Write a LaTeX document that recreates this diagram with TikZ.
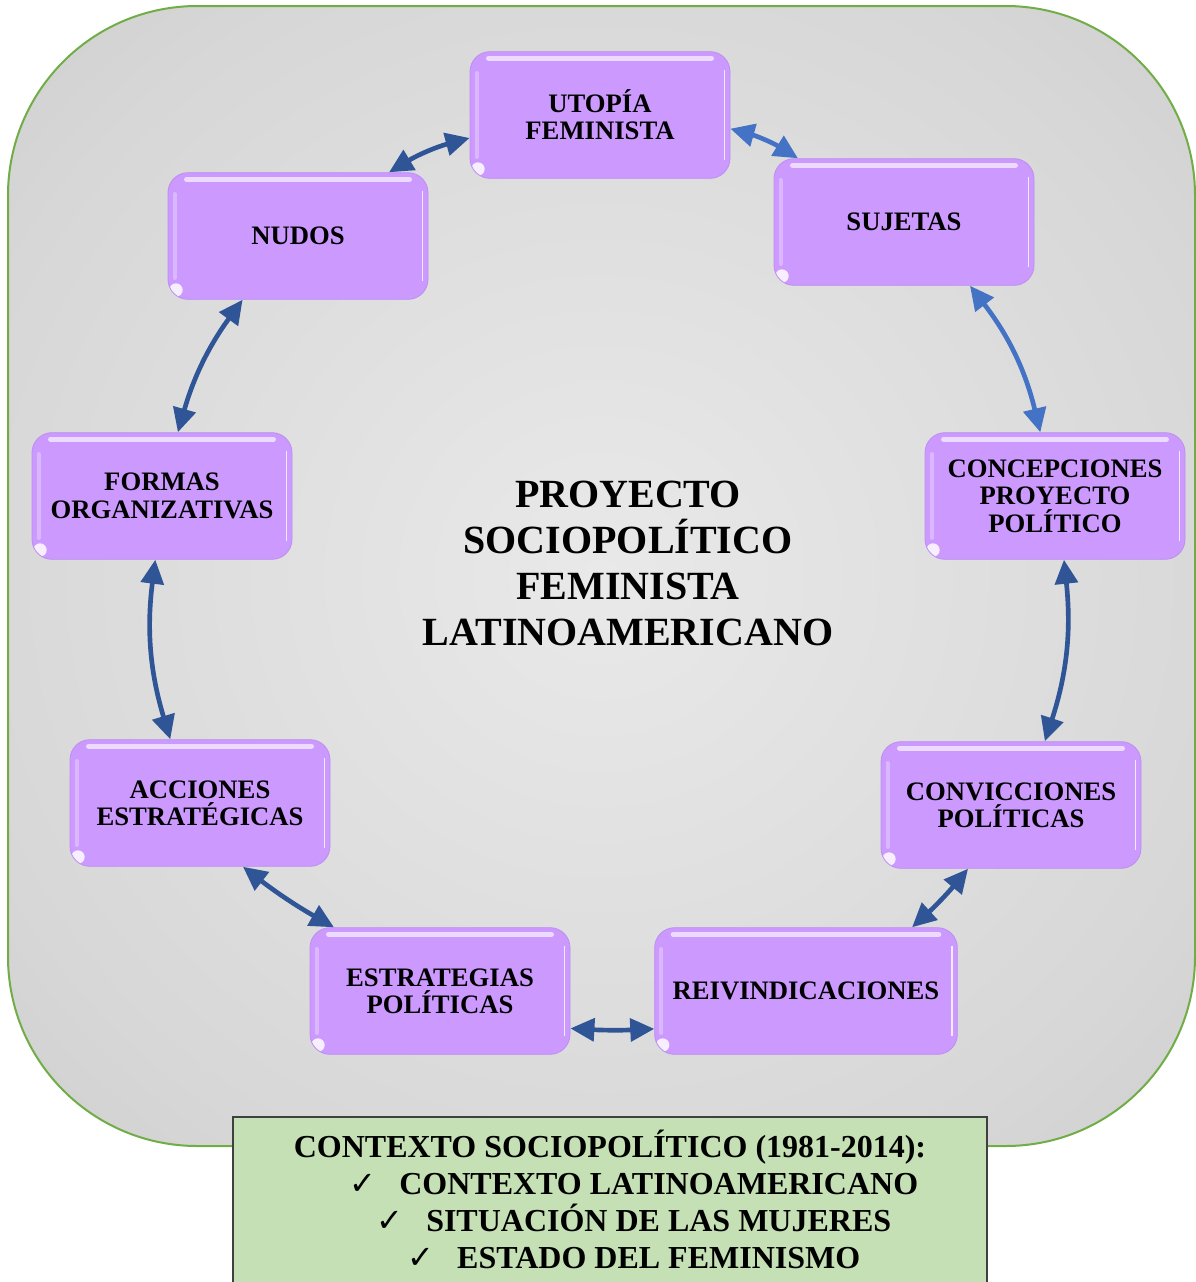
\documentclass[tikz,border=0pt]{standalone}
\usepackage{fontspec}
\setmainfont{Liberation Serif}
\newfontfamily\symfont{DejaVu Sans}
\usetikzlibrary{arrows.meta,calc}
\definecolor{ink}{RGB}{0,0,0}
\definecolor{lila}{RGB}{204,153,255}
\definecolor{lilaedge}{RGB}{188,142,240}
\definecolor{navy}{RGB}{47,85,151}
\definecolor{sky}{RGB}{68,114,196}
\definecolor{frame}{RGB}{112,173,71}
\definecolor{mint}{RGB}{197,224,180}
\definecolor{bgin}{RGB}{233,233,233}
\definecolor{bgmid}{RGB}{215,215,215}
\definecolor{bgout}{RGB}{194,194,194}
\pgfdeclareradialshading{ringbg}{\pgfpointorigin}{color(0bp)=(bgin); color(28bp)=(bgmid); color(50bp)=(bgout)}
\tikzset{
  glossy/.style={path picture={
    \draw[white,opacity=.65,line width=4pt,line cap=round]
      ([xshift=14pt,yshift=-5pt]path picture bounding box.north west) --
      ([xshift=-14pt,yshift=-5pt]path picture bounding box.north east);
    \draw[white,opacity=.3,line width=3pt,line cap=round]
      ([xshift=5pt,yshift=-16pt]path picture bounding box.north west) --
      ([xshift=5pt,yshift=16pt]path picture bounding box.south west);
    \draw[white,opacity=.8,line width=1.2pt]
      ([xshift=-4pt,yshift=-14pt]path picture bounding box.north east) --
      ([xshift=-4pt,yshift=14pt]path picture bounding box.south east);
    \fill[white,opacity=.85] ([xshift=6pt,yshift=7pt]path picture bounding box.south west) circle (5pt);
  }},
  concept/.style={draw=lilaedge,line width=.6pt,fill=lila,rounded corners=15pt,
    minimum width=195pt,minimum height=95pt,align=center,text=ink,
    font=\fontsize{20}{20.5}\selectfont\bfseries,glossy},
  link/.style={{Triangle[length=18pt,width=17pt]}-{Triangle[length=18pt,width=17pt]},line width=3.5pt},
  title/.style={align=center,text=ink,font=\fontsize{30}{34.5}\selectfont\bfseries},
  ctxbox/.style={draw=black!75,line width=1pt,fill=mint,minimum width=565.5pt,minimum height=130pt},
  ctx/.style={anchor=base,text=ink,font=\fontsize{24}{27}\selectfont\bfseries},
}

\begin{document}
\begin{tikzpicture}[x=0.75pt,y=-0.75pt]
  \useasboundingbox (0,0) rectangle (1196,1282);
  % backdrop
  \shadedraw[shading=ringbg,draw=frame,line width=1.5pt,rounded corners=142pt] (8,6) rectangle (1195,1146);

  % the ring
  \node[concept] (uto) at (600,115) {UTOPÍA\\FEMINISTA};
  \node[concept] (suj) at (904,222) {SUJETAS};
  \node[concept] (conc) at (1055,496) {CONCEPCIONES\\PROYECTO\\POLÍTICO};
  \node[concept] (conv) at (1011,805) {CONVICCIONES\\POLÍTICAS};
  \node[concept,minimum width=227pt] (reiv) at (806,991) {REIVINDICACIONES};
  \node[concept] (estr) at (440,991) {ESTRATEGIAS\\POLÍTICAS};
  \node[concept] (acci) at (200,803) {ACCIONES\\ESTRATÉGICAS};
  \node[concept] (form) at (162,496) {FORMAS\\ORGANIZATIVAS};
  \node[concept] (nudo) at (298,236) {NUDOS};

  % centre
  \node[title] (proj) at (628,563) {PROYECTO\\SOCIOPOLÍTICO\\FEMINISTA\\LATINOAMERICANO};

  \foreach \a/\sa/\b/\sb/\bend/\col in {nudo/35/uto/190/8/navy, uto/354/suj/149/8/sky,
      suj/316/conc/103/12/sky, conc/278/conv/62/12/navy, conv/236/reiv/31/4/navy,
      reiv/194/estr/344/3/navy, estr/149/acci/304/4/navy, acci/115/form/264/12/navy,
      form/76/nudo/229/10/navy}
    \draw[link,\col] (\a.\sa) to[bend left=\bend] (\b.\sb);

  % context
  \node[ctxbox] (ctxb) at (610,1203.5) {};
  \node[ctx] (c0) at (610,1157) {CONTEXTO SOCIOPOLÍTICO (1981-2014):};
  \node[ctx] (c1) at (634,1194) {{\symfont ✓}\hspace{17pt}CONTEXTO LATINOAMERICANO};
  \node[ctx] (c2) at (634,1231) {{\symfont ✓}\hspace{17pt}SITUACIÓN DE LAS MUJERES};
  \node[ctx] (c3) at (634,1268) {{\symfont ✓}\hspace{17pt}ESTADO DEL FEMINISMO};
\end{tikzpicture}
\end{document}
